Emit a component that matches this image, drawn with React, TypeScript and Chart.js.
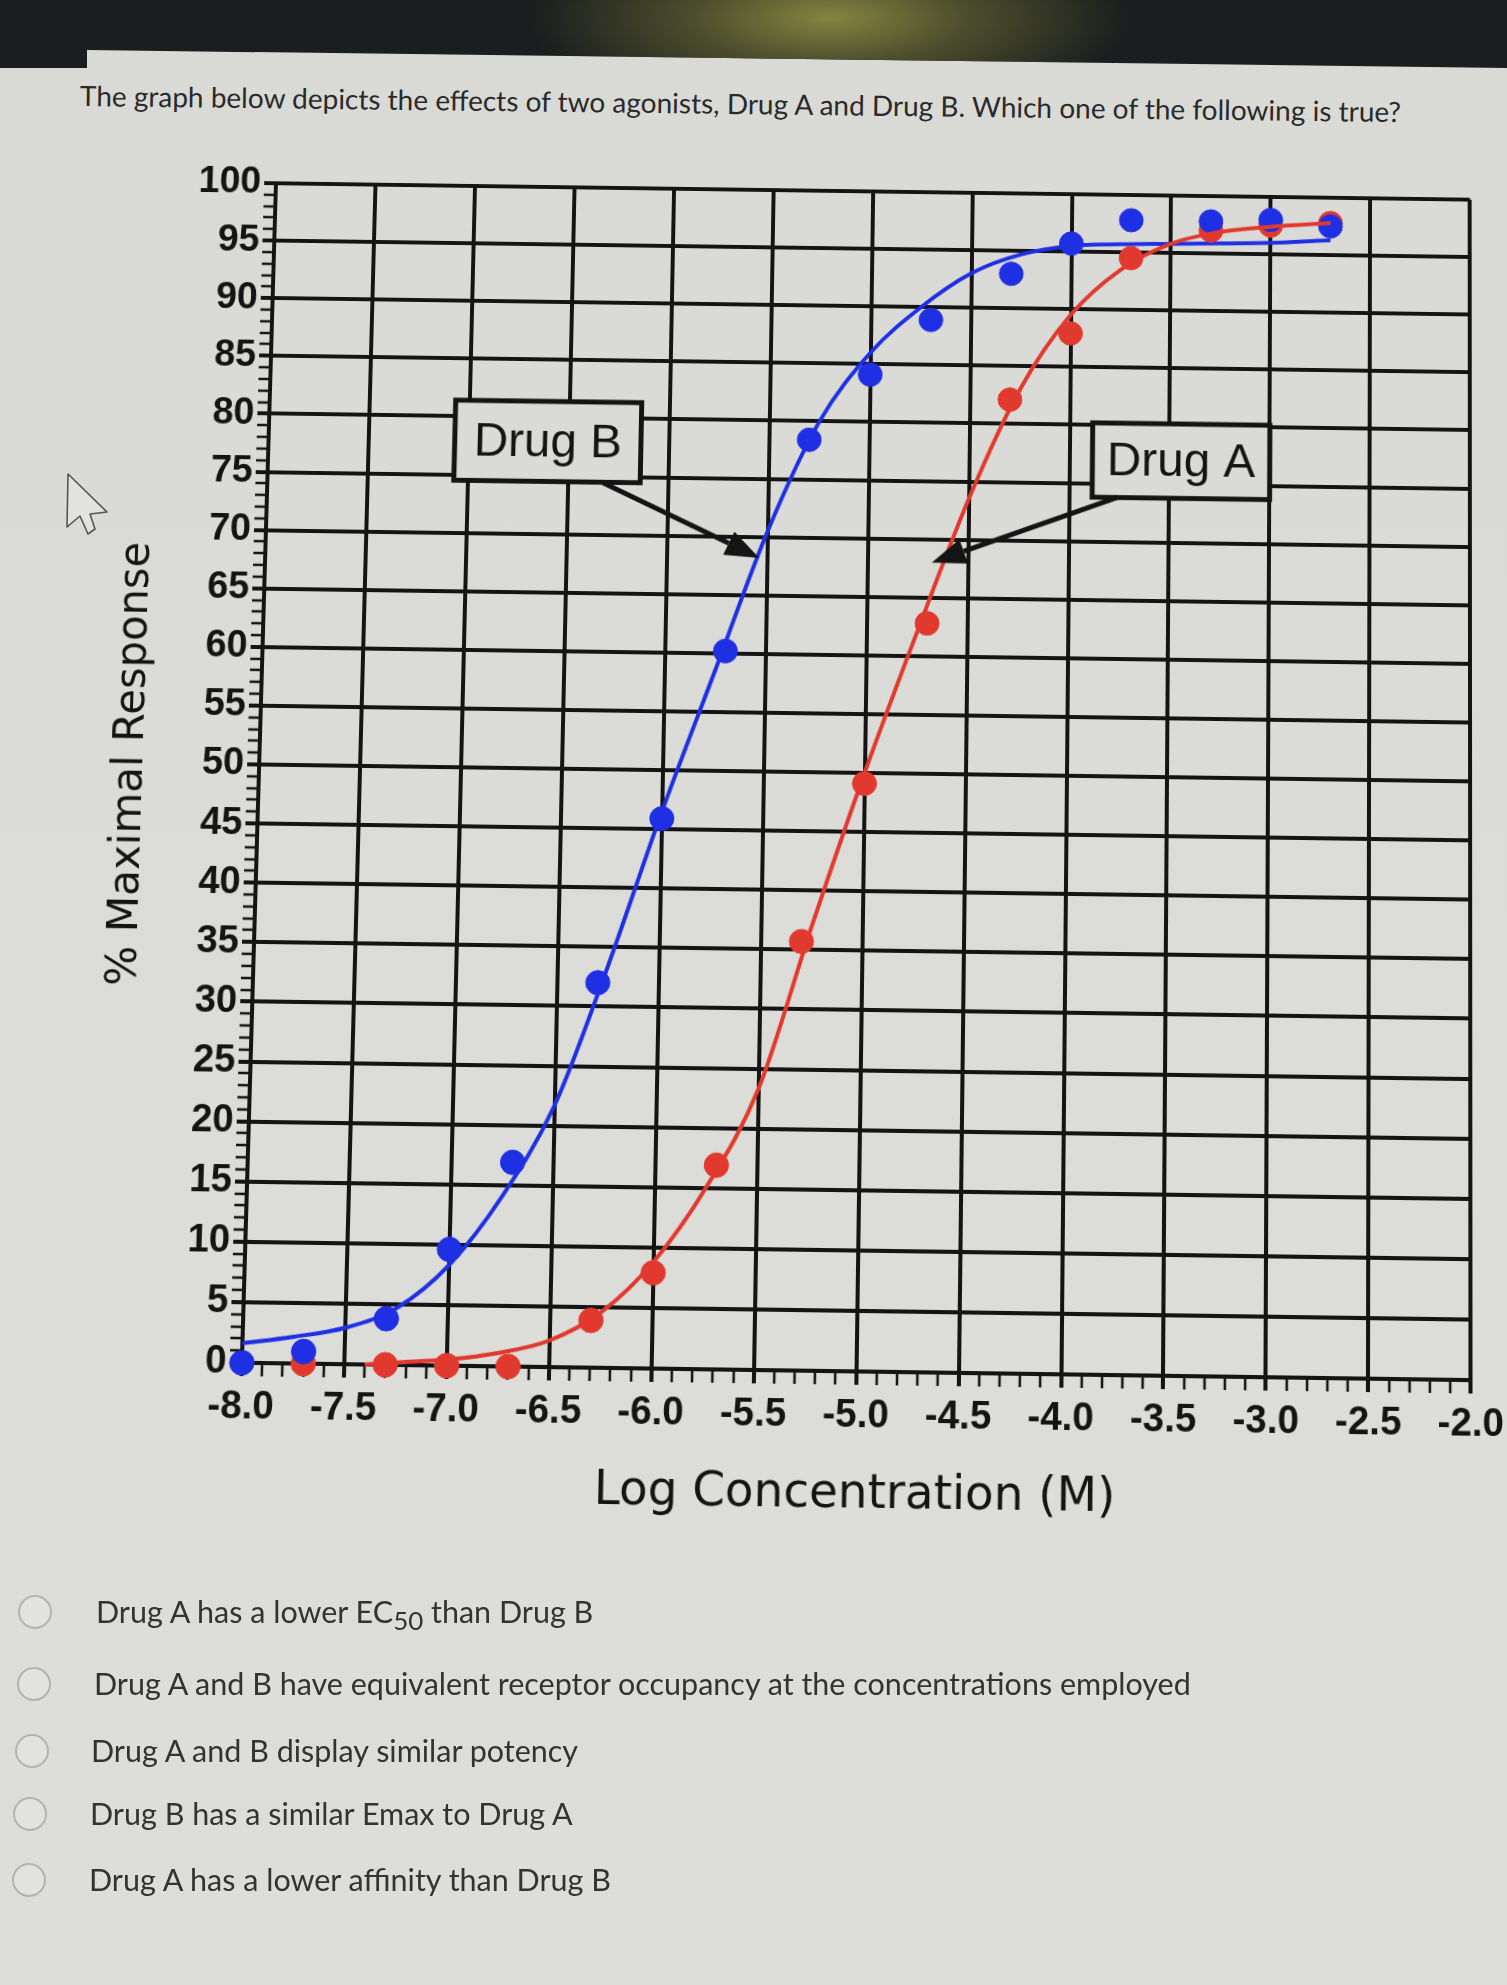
import React, { useEffect, useRef } from 'react';
import { Chart, registerables } from 'chart.js';

Chart.register(...registerables);

// values
const pointConcB = [-8.0, -7.7, -7.3, -7.0, -6.7, -6.3, -6.0, -5.7, -5.3, -5.0, -4.7, -4.3, -4.0, -3.7, -3.3, -3.0, -2.7];
const pointRespB = [0, 1, 3.8, 9.6, 16.9, 32, 45.9, 60.2, 78.4, 84.1, 88.9, 93, 95.7, 97.8, 97.8, 98, 97.5];

const pointConcA = [-7.7, -7.3, -7.0, -6.7, -6.3, -6.0, -5.7, -5.3, -5.0, -4.7, -4.3, -4.0, -3.7, -3.3, -3.0, -2.7];
const pointRespA = [0, 0, 0, 0, 3.9, 7.9, 16.9, 35.7, 49.1, 62.8, 82.1, 87.9, 94.5, 97, 97.5, 97.8];

// fitted curves, read at regular spots along each line
const fitConcB = [-8.0, -7.75, -7.5, -7.25, -7.0, -6.75, -6.5, -6.25, -6.0, -5.75, -5.5, -5.25, -5.0, -4.75, -4.5, -4.25, -4.0, -3.75, -3.5, -3.25, -3.0, -2.7];
const fitRespB = [1.6, 2.2, 3.0, 4.7, 8.3, 14, 21.7, 33.5, 46.5, 58.5, 70.5, 80, 86, 90, 93, 94.7, 95.5, 95.7, 95.8, 95.9, 96.0, 96.3];

const fitConcA = [-7.4, -7.25, -7.0, -6.75, -6.5, -6.25, -6.0, -5.75, -5.5, -5.25, -5.0, -4.75, -4.5, -4.25, -4.0, -3.75, -3.5, -3.25, -3.0, -2.7];
const fitRespA = [0, 0.2, 0.5, 1.1, 2.2, 4.6, 8.8, 15, 23.3, 37, 50, 62, 73.5, 83, 89.5, 93.5, 95.8, 96.9, 97.4, 97.8];

const xRange = [-8, -2];
const yRange = [0, 100];

// callouts: label, box [x0, yTop, x1, yBottom], arrow [xFrom, yFrom, xTo, yTo] in data units
const calloutLabels = ['Drug B', 'Drug A'];
const calloutBoxes = [
  [-7.07, 81.4, -6.14, 74.5],
  [-3.885, 80.2, -3.0, 73.8],
];
const calloutArrows = [
  [-6.33, 74.5, -5.54, 68.2],
  [-3.76, 73.8, -4.68, 68],
];

const answers = [
  'Drug A has a lower EC|50| than Drug B',
  'Drug A and B have equivalent receptor occupancy at the concentrations employed',
  'Drug A and B display similar potency',
  'Drug B has a similar Emax to Drug A',
  'Drug A has a lower affinity than Drug B',
];

const BLUE = '#1f30e4';
const RED = '#e2392e';
const INK = '#141414';
const PAPER = '#dadbd7';

const toXY = (xs: number[], ys: number[]) => xs.map((x, i) => ({ x, y: ys[i] }));
const isMajorX = (v: number) => Math.abs(Math.round(v * 10)) % 5 === 0;
const isMajorY = (v: number) => Math.round(v) % 5 === 0;

const calloutPlugin = {
  id: 'callouts',
  afterDatasetsDraw(chart: any) {
    const { ctx, scales } = chart;
    const { x, y } = scales;
    ctx.save();
    calloutLabels.forEach((label, i) => {
      const [bx0, by0, bx1, by1] = calloutBoxes[i];
      const left = x.getPixelForValue(bx0);
      const right = x.getPixelForValue(bx1);
      const top = y.getPixelForValue(by0);
      const bottom = y.getPixelForValue(by1);
      ctx.fillStyle = PAPER;
      ctx.fillRect(left, top, right - left, bottom - top);
      ctx.lineWidth = 5;
      ctx.strokeStyle = INK;
      ctx.strokeRect(left, top, right - left, bottom - top);
      ctx.fillStyle = INK;
      ctx.font = '48px "Liberation Sans", Arial, sans-serif';
      ctx.textAlign = 'center';
      ctx.textBaseline = 'middle';
      ctx.fillText(label, (left + right) / 2, (top + bottom) / 2 + 2);

      const [ax0, ay0, ax1, ay1] = calloutArrows[i];
      const sx = x.getPixelForValue(ax0);
      const sy = y.getPixelForValue(ay0);
      const ex = x.getPixelForValue(ax1);
      const ey = y.getPixelForValue(ay1);
      const ang = Math.atan2(ey - sy, ex - sx);
      const head = 34;
      const half = 13;
      const bx = ex - Math.cos(ang) * head;
      const by = ey - Math.sin(ang) * head;
      ctx.beginPath();
      ctx.moveTo(sx, sy);
      ctx.lineTo(bx, by);
      ctx.lineWidth = 5;
      ctx.stroke();
      ctx.beginPath();
      ctx.moveTo(ex, ey);
      ctx.lineTo(bx + Math.sin(ang) * half, by - Math.cos(ang) * half);
      ctx.lineTo(bx - Math.sin(ang) * half, by + Math.cos(ang) * half);
      ctx.closePath();
      ctx.fill();
    });
    ctx.restore();
  },
};

function DoseResponseChart() {
  const canvasRef = useRef<HTMLCanvasElement | null>(null);

  useEffect(() => {
    const canvas = canvasRef.current;
    if (!canvas) return;

    const tickFont = { family: '"Liberation Sans", Arial, sans-serif', size: 38, weight: 'bold' as const };

    const chart = new Chart(canvas, {
      type: 'scatter',
      data: {
        datasets: [
          {
            label: 'Drug A fit',
            data: toXY(fitConcA, fitRespA),
            showLine: true,
            borderColor: RED,
            borderWidth: 4,
            pointRadius: 0,
            cubicInterpolationMode: 'monotone',
            clip: false,
          },
          {
            label: 'Drug B',
            data: toXY(pointConcB, pointRespB),
            backgroundColor: BLUE,
            borderColor: BLUE,
            pointRadius: 12,
            clip: false,
          },
          {
            label: 'Drug A',
            data: toXY(pointConcA, pointRespA),
            backgroundColor: RED,
            borderColor: RED,
            pointRadius: 12,
            clip: false,
          },
          {
            label: 'Drug B fit',
            data: toXY(fitConcB, fitRespB),
            showLine: true,
            borderColor: BLUE,
            borderWidth: 4,
            pointRadius: 0,
            cubicInterpolationMode: 'monotone',
            clip: false,
          },
        ],
      },
      options: {
        responsive: false,
        animation: false,
        devicePixelRatio: 1,
        layout: { padding: { top: 190, left: 102, right: 4, bottom: 0 } },
        plugins: { legend: { display: false }, tooltip: { enabled: false } },
        scales: {
          x: {
            type: 'linear',
            min: xRange[0],
            max: xRange[1],
            afterFit: (scale: any) => {
              scale.height = 168;
            },
            border: { display: true, color: INK, width: 4 },
            grid: {
              color: (c: any) => (isMajorX(c.tick.value) ? INK : 'rgba(0,0,0,0)'),
              lineWidth: 4,
              tickColor: INK,
              tickWidth: (c: any) => (isMajorX(c.tick.value) ? 4 : 2.5),
              tickLength: 13,
            },
            ticks: {
              stepSize: 0.1,
              autoSkip: false,
              maxRotation: 0,
              minRotation: 0,
              padding: 8,
              color: INK,
              font: tickFont,
              callback: (v: any) => (isMajorX(Number(v)) ? Number(v).toFixed(1) : ''),
            },
            title: {
              display: true,
              text: 'Log Concentration (M)',
              color: INK,
              font: { family: '"DejaVu Sans", sans-serif', size: 46 },
              padding: { top: 0, bottom: 20 },
            },
          },
          y: {
            type: 'linear',
            min: yRange[0],
            max: yRange[1],
            afterFit: (scale: any) => {
              scale.width = 153;
            },
            border: { display: true, color: INK, width: 4 },
            grid: {
              color: (c: any) => (isMajorY(c.tick.value) ? INK : 'rgba(0,0,0,0)'),
              lineWidth: 4,
              tickColor: INK,
              tickWidth: (c: any) => (isMajorY(c.tick.value) ? 4 : 2.5),
              tickLength: 12,
            },
            ticks: {
              stepSize: 1,
              autoSkip: false,
              padding: 3,
              color: INK,
              font: tickFont,
              callback: (v: any) => (isMajorY(Number(v)) ? String(v) : ''),
            },
            title: {
              display: true,
              text: '% Maximal Response',
              color: INK,
              font: { family: '"DejaVu Sans", sans-serif', size: 42 },
              padding: { top: 0, bottom: 0 },
            },
          },
        },
      },
      plugins: [calloutPlugin],
    } as any);

    return () => {
      chart.destroy();
    };
  }, []);

  // slight tilt and keystone, as in the photographed screen
  return (
    <canvas
      ref={canvasRef}
      width={1507}
      height={1540}
      style={{
        position: 'absolute',
        left: 4,
        top: -8,
        width: 1507,
        height: 1540,
        transform: 'perspective(2500px) rotateX(3.5deg) rotate(0.8deg)',
        transformOrigin: '865px 780px',
      }}
    />
  );
}

function AnswerText({ text }: { text: string }) {
  const parts = text.split('|');
  if (parts.length === 1) return <>{text}</>;
  return (
    <>
      {parts[0]}
      <sub style={{ fontSize: '0.85em' }}>{parts[1]}</sub>
      {parts[2]}
    </>
  );
}

export default function App() {
  const rowY = [1612, 1684, 1751, 1814, 1880];
  const rowTextX = [96, 94, 91, 90, 89];
  const rowRadioX = [35, 34, 32, 30, 29];

  return (
    <div
      style={{
        position: 'absolute',
        left: 0,
        top: 0,
        width: 1507,
        height: 1985,
        overflow: 'hidden',
        background: 'linear-gradient(180deg, #d9dad6 0%, #dcdcd8 60%, #dddedb 100%)',
        fontFamily: 'Lato, "Open Sans", sans-serif',
      }}
    >
      {/* dark bezel of the screen at the top */}
      <div
        style={{
          position: 'absolute',
          left: 0,
          top: 0,
          width: 1507,
          height: 70,
          clipPath: 'polygon(0 0, 1507px 0, 1507px 68px, 87px 50px, 87px 68px, 0 68px)',
          background:
            'radial-gradient(ellipse 300px 100px at 830px 18px, #858440 0%, #4d4e2d 45%, rgba(27,31,30,0) 100%), #1a1e1e',
        }}
      />

      <div
        style={{
          position: 'absolute',
          left: 80,
          top: 78,
          fontSize: 28,
          lineHeight: '34px',
          color: '#2a2a2a',
          whiteSpace: 'nowrap',
          transform: 'rotate(0.7deg)',
          transformOrigin: '0 50%',
        }}
      >
        The graph below depicts the effects of two agonists, Drug A and Drug B. Which one of the following is true?
      </div>

      <DoseResponseChart />

      <svg width={1507} height={1985} style={{ position: 'absolute', left: 0, top: 0, pointerEvents: 'none' }}>
        <polygon
          points="68,474 107,512 90,514 95,529 88,534 80,516 67,527"
          fill="#e2e2df"
          stroke="#555"
          strokeWidth={1.6}
          strokeLinejoin="round"
        />
      </svg>

      {answers.map((a, i) => (
        <React.Fragment key={a}>
          <div
            style={{
              position: 'absolute',
              left: rowRadioX[i] - 17,
              top: rowY[i] - 17,
              width: 30,
              height: 30,
              borderRadius: '50%',
              border: '2px solid #b3b3b1',
              background: '#e2e2e0',
            }}
          />
          <div
            style={{
              position: 'absolute',
              left: rowTextX[i],
              top: rowY[i] - 20,
              fontSize: 30.5,
              lineHeight: '38px',
              color: '#333',
              whiteSpace: 'nowrap',
            }}
          >
            <AnswerText text={a} />
          </div>
        </React.Fragment>
      ))}
    </div>
  );
}
